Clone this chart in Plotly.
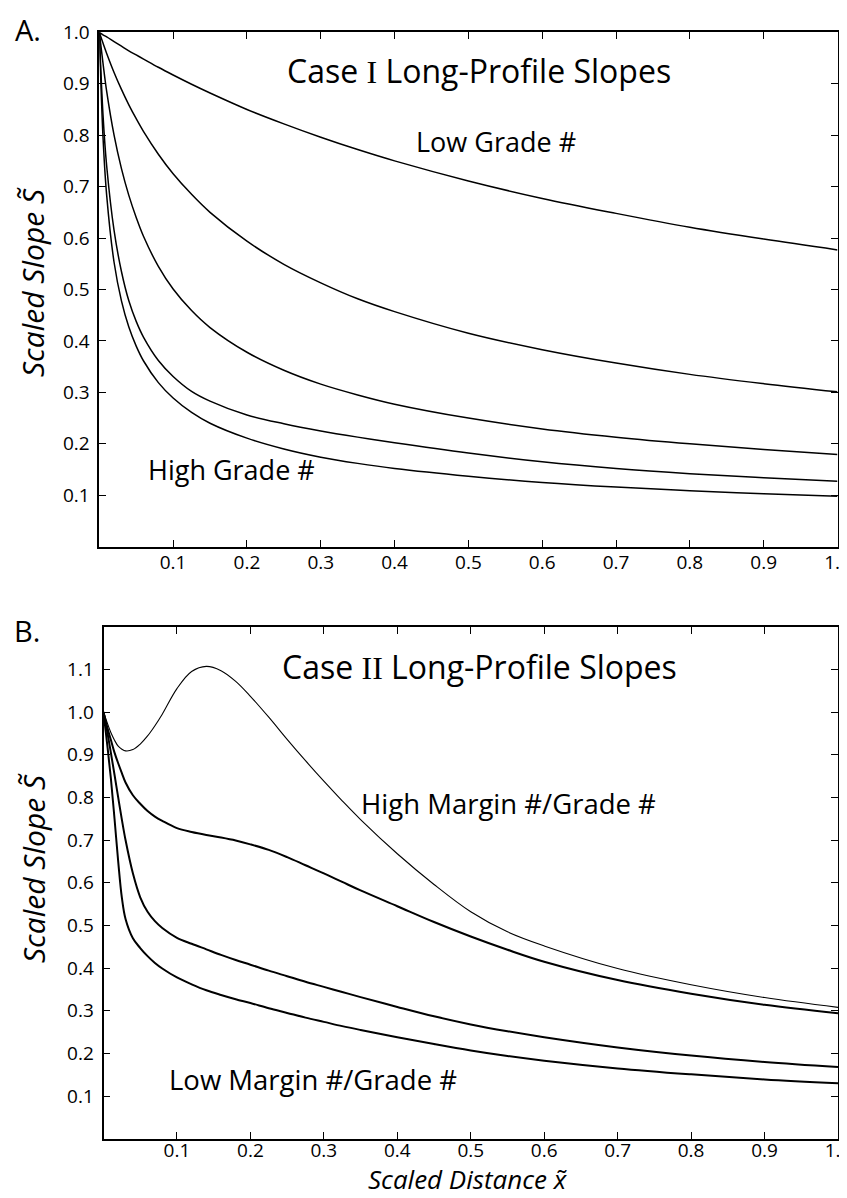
import plotly.graph_objects as go

# ---- Case I (panel A) ----
x_a = [0, 0.005, 0.01, 0.02, 0.03, 0.04, 0.05, 0.06, 0.08, 0.1, 0.125, 0.15,
       0.2, 0.25, 0.3, 0.35, 0.4, 0.5, 0.6, 0.7, 0.8, 0.9, 1.0]
s_a1 = [1.0, 0.995, 0.991, 0.982, 0.973, 0.964, 0.956, 0.948, 0.932, 0.917, 0.899, 0.882,
        0.850, 0.822, 0.796, 0.772, 0.750, 0.711, 0.677, 0.648, 0.621, 0.598, 0.577]
s_a2 = [1.0, 0.979, 0.959, 0.922, 0.889, 0.859, 0.832, 0.807, 0.763, 0.725, 0.685, 0.650,
        0.594, 0.549, 0.513, 0.482, 0.457, 0.415, 0.383, 0.357, 0.335, 0.317, 0.301]
s_a3 = [1.0, 0.940, 0.885, 0.800, 0.735, 0.683, 0.640, 0.603, 0.545, 0.501, 0.459, 0.426,
        0.378, 0.343, 0.316, 0.295, 0.277, 0.250, 0.229, 0.213, 0.200, 0.189, 0.179]
s_a4 = [1.0, 0.840, 0.740, 0.615, 0.535, 0.478, 0.438, 0.407, 0.362, 0.331, 0.302, 0.283,
        0.256, 0.239, 0.225, 0.213, 0.202, 0.182, 0.165, 0.152, 0.142, 0.134, 0.127]
s_a5 = [1.0, 0.797, 0.683, 0.553, 0.478, 0.427, 0.390, 0.361, 0.319, 0.289, 0.261, 0.240,
        0.211, 0.190, 0.174, 0.162, 0.152, 0.137, 0.125, 0.116, 0.109, 0.103, 0.098]

# ---- Case II (panel B) ----
x_b = [0, 0.005, 0.01, 0.015, 0.02, 0.025, 0.03, 0.04, 0.05, 0.06, 0.07, 0.08, 0.1, 0.12,
       0.14, 0.16, 0.18, 0.2, 0.225, 0.25, 0.275, 0.3, 0.325, 0.35, 0.4, 0.45, 0.5, 0.55,
       0.6, 0.7, 0.8, 0.9, 1.0]
s_b1 = [1.0, 0.975, 0.952, 0.934, 0.920, 0.913, 0.909, 0.912, 0.925, 0.944, 0.968, 0.995,
        1.055, 1.095, 1.107, 1.097, 1.072, 1.037, 0.988, 0.936, 0.886, 0.838, 0.792, 0.748,
        0.668, 0.596, 0.532, 0.485, 0.452, 0.399, 0.361, 0.331, 0.308]
s_b2 = [1.0, 0.965, 0.935, 0.905, 0.880, 0.857, 0.835, 0.805, 0.785, 0.768, 0.755, 0.745,
        0.728, 0.719, 0.712, 0.706, 0.699, 0.690, 0.677, 0.660, 0.641, 0.622, 0.602, 0.582,
        0.545, 0.508, 0.474, 0.443, 0.415, 0.372, 0.340, 0.314, 0.294]
s_b3 = [1.0, 0.955, 0.905, 0.853, 0.800, 0.748, 0.700, 0.622, 0.566, 0.532, 0.510, 0.494,
        0.471, 0.457, 0.444, 0.431, 0.419, 0.408, 0.394, 0.381, 0.368, 0.356, 0.344, 0.332,
        0.309, 0.287, 0.268, 0.252, 0.238, 0.214, 0.195, 0.180, 0.168]
s_b4 = [1.0, 0.925, 0.845, 0.750, 0.650, 0.565, 0.515, 0.470, 0.447, 0.428, 0.412, 0.399,
        0.378, 0.362, 0.348, 0.337, 0.327, 0.318, 0.306, 0.295, 0.284, 0.274, 0.264, 0.255,
        0.238, 0.222, 0.207, 0.194, 0.183, 0.165, 0.151, 0.139, 0.130]

tick_x = [0.1, 0.2, 0.3, 0.4, 0.5, 0.6, 0.7, 0.8, 0.9, 1.0]
tick_ya = [0.1, 0.2, 0.3, 0.4, 0.5, 0.6, 0.7, 0.8, 0.9, 1.0]
tick_yb = [0.1, 0.2, 0.3, 0.4, 0.5, 0.6, 0.7, 0.8, 0.9, 1.0, 1.1]

FONT = "Open Sans"
W, H = 847, 1198
OFF = 8  # page margin of the browser around the figure div


def fx(px):
    return (px - OFF) / W


def fy(py):
    return 1 - (py - OFF) / H


fig = go.Figure()
for s in [s_a1, s_a2, s_a3, s_a4, s_a5]:
    fig.add_trace(go.Scatter(x=x_a, y=s, mode="lines", xaxis="x", yaxis="y",
                             line=dict(color="black", width=1.5, shape="spline", smoothing=1),
                             showlegend=False, hoverinfo="skip"))
for s, w in [(s_b1, 1.1), (s_b2, 2), (s_b3, 2), (s_b4, 2)]:
    fig.add_trace(go.Scatter(x=x_b, y=s, mode="lines", xaxis="x2", yaxis="y2",
                             line=dict(color="black", width=w, shape="spline", smoothing=1),
                             showlegend=False, hoverinfo="skip"))

ax = dict(showline=True, linecolor="black", linewidth=1.8, mirror="ticks",
          ticks="inside", ticklen=7, tickwidth=1.3, tickcolor="black",
          showgrid=False, zeroline=False, tickformat=".1f", automargin=False,
          ticklabeloverflow="allow",
          tickfont=dict(family=FONT, size=19, color="black"))

fig.update_layout(
    width=W, height=H,
    margin=dict(l=0, r=0, t=0, b=0, pad=0),
    paper_bgcolor="white", plot_bgcolor="white",
    xaxis=dict(ax, domain=[fx(99.3), fx(837.5)], range=[0, 1], tickvals=tick_x,
               anchor="y", ticklabelstandoff=-2),
    yaxis=dict(ax, domain=[fy(546.7), fy(32.3)], range=[0, 1], tickvals=tick_ya,
               anchor="x", ticklabelstandoff=4),
    xaxis2=dict(ax, domain=[fx(103.5), fx(838)], range=[0, 1], tickvals=tick_x,
                anchor="y2", ticklabelstandoff=-7),
    yaxis2=dict(ax, domain=[fy(1138.8), fy(626.7)], range=[0, 1.2], tickvals=tick_yb,
                anchor="x2", ticklabelstandoff=4),
)

roman = "<span style='font-family:Liberation Serif'>{}</span>"
notes = [
    # text, x, y, xref, yref, size
    ("Case " + roman.format("I") + " Long-Profile Slopes", 0.514, 0.925, "x", "y", 32),
    ("Low Grade #", 0.537, 0.787, "x", "y", 27),
    ("High Grade #", 0.179, 0.151, "x", "y", 27),
    ("Case " + roman.format("II") + " Long-Profile Slopes", 0.512, 1.106, "x2", "y2", 32),
    ("High Margin #/Grade #", 0.551, 0.785, "x2", "y2", 27.5),
    ("Low Margin #/Grade #", 0.285, 0.139, "x2", "y2", 27.5),
    ("B.", fx(27), fy(630), "paper", "paper", 29),
]
for t, x, y, xr, yr, sz in notes:
    fig.add_annotation(text=t, x=x, y=y, xref=xr, yref=yr, showarrow=False,
                       xanchor="center", yanchor="middle",
                       font=dict(family=FONT, size=sz, color="black"))

# panel letter A sits at the very top edge
fig.add_annotation(text="A.", x=fx(28), y=1, xref="paper", yref="paper", showarrow=False,
                   xanchor="center", yanchor="top",
                   font=dict(family=FONT, size=29, color="black"))

# axis titles
for yc in [282, 868]:
    fig.add_annotation(text="<i>Scaled Slope S\u0303</i>", x=fx(33), y=fy(yc),
                       xref="paper", yref="paper", showarrow=False, textangle=-90,
                       xanchor="center", yanchor="middle",
                       font=dict(family=FONT, size=30, color="black"))
fig.add_annotation(text="<i>Scaled Distance x\u0303</i>", x=fx(468), y=fy(1179),
                   xref="paper", yref="paper", showarrow=False,
                   xanchor="center", yanchor="middle",
                   font=dict(family=FONT, size=26, color="black"))

fig.write_html("out.html")
